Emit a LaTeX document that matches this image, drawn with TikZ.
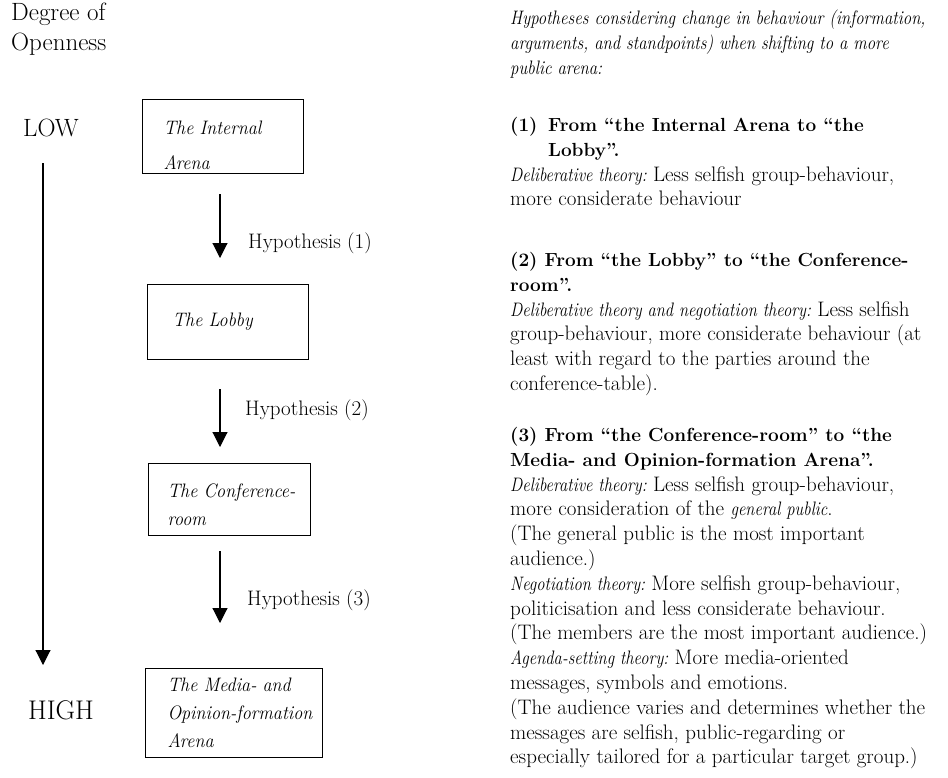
\documentclass[tikz,border=0pt]{standalone}
\usepackage{fontspec}
\usetikzlibrary{arrows.meta}
\newcommand\itpart[1]{\scalebox{0.85}[1]{\fontsize{19.5}{24.8}\selectfont\itshape #1}}
\newcommand\itline[1]{\scalebox{0.86}[1]{\fontsize{19.5}{24.8}\selectfont\itshape #1}}
\newcommand\bfpart[1]{{\fontsize{19}{24.8}\selectfont\bfseries #1}}
\newcommand\boxline[1]{\scalebox{0.93}[1]{#1}}
\tikzset{
  lbl/.style={font=\fontsize{25}{30}\selectfont, inner sep=0pt, align=left},
  arena/.style={draw, line width=1.1pt, inner sep=0pt, anchor=north west, align=left,
    font=\fontsize{19.5}{28}\selectfont\itshape},
  hyp/.style={font=\fontsize{21}{24}\selectfont, anchor=west, inner sep=0pt},
  para/.style={anchor=north west, inner sep=0pt, align=left,
    font=\fontsize{21}{24.8}\selectfont},
  flow/.style={line width=1.1pt, -{Triangle[width=15pt,length=15pt]}},
}
\begin{document}
\begin{tikzpicture}[x=1pt,y=-1pt]
\useasboundingbox (0,0) rectangle (948,777);

% left labels
\node[lbl, anchor=north west] (deg) at (11,3) {Degree of\\Openness};
\node[lbl] (low) at (51,128) {LOW};
\node[lbl, font=\fontsize{27}{30}\selectfont] (high) at (61,710) {HIGH};
\coordinate (lt) at (43,163);
\coordinate (lb) at (43,665);
\draw[flow] (lt) -- (lb);

% arenas
\node[arena, minimum width=161pt, minimum height=74pt, text width=119pt] (int) at (142,99)
  {\rule{0pt}{32pt}\boxline{The Internal}\\[7pt]\boxline{Arena}};
\node[arena, minimum width=161pt, minimum height=75pt, text width=111pt] (lob) at (147,284)
  {\boxline{The Lobby}};
\node[arena, minimum width=162pt, minimum height=72pt, text width=124pt] (conf) at (148,463)
  {\rule{0pt}{24pt}\boxline{The Conference-}\\\boxline{room}};
\node[arena, minimum width=177pt, minimum height=89pt, text width=133pt] (med) at (145,668)
  {\boxline{The Media- and}\\\boxline{Opinion-formation}\\\boxline{Arena}};

\coordinate (ax) at (220,0);
\draw[flow, shorten <=20pt, shorten >=26pt] (int.south -| ax) -- (lob.north -| ax);
\draw[flow, shorten <=29pt, shorten >=16pt] (lob.south -| ax) -- (conf.north -| ax);
\draw[flow, shorten <=15pt, shorten >=45pt] (conf.south -| ax) -- (med.north -| ax);

\node[hyp] (h1) at (248,243) {Hypothesis (1)};
\node[hyp] (h2) at (245,410) {Hypothesis (2)};
\node[hyp] (h3) at (247,600) {Hypothesis (3)};

% right column
\node[para] (intro) at (510,10)
{\itline{Hypotheses considering change in behaviour (information,}\\
\itline{arguments, and standpoints) when shifting to a more}\\
\itline{public arena:}};

\node[para] (p1) at (510,117) {\bfpart{\makebox[38pt][l]{(1)}From “the Internal Arena to “the}\\
\bfpart{\hspace*{38pt}Lobby”.}\\
\itpart{Deliberative theory:} Less selfish group-behaviour,\\
more considerate behaviour};

\node[para] (p2) at (510,252) {\bfpart{(2) From “the Lobby” to “the Conference-}\\
\bfpart{room”.}\\
\itpart{Deliberative theory and negotiation theory:} Less selfish\\
group-behaviour, more considerate behaviour (at\\
least with regard to the parties around the\\
conference-table).};

\node[para] (p3) at (510,427) {\bfpart{(3) From “the Conference-room” to “the}\\
\bfpart{Media- and Opinion-formation Arena”.}\\
\itpart{Deliberative theory:} Less selfish group-behaviour,\\
more consideration of the \itpart{general public}.\\
(The general public is the most important\\
audience.)\\
\itpart{Negotiation theory:} More selfish group-behaviour,\\
politicisation and less considerate behaviour.\\
(The members are the most important audience.)\\
\itpart{Agenda-setting theory:} More media-oriented\\
messages, symbols and emotions.\\
(The audience varies and determines whether the\\
messages are selfish, public-regarding or\\
especially tailored for a particular target group.)};
\end{tikzpicture}
\end{document}
